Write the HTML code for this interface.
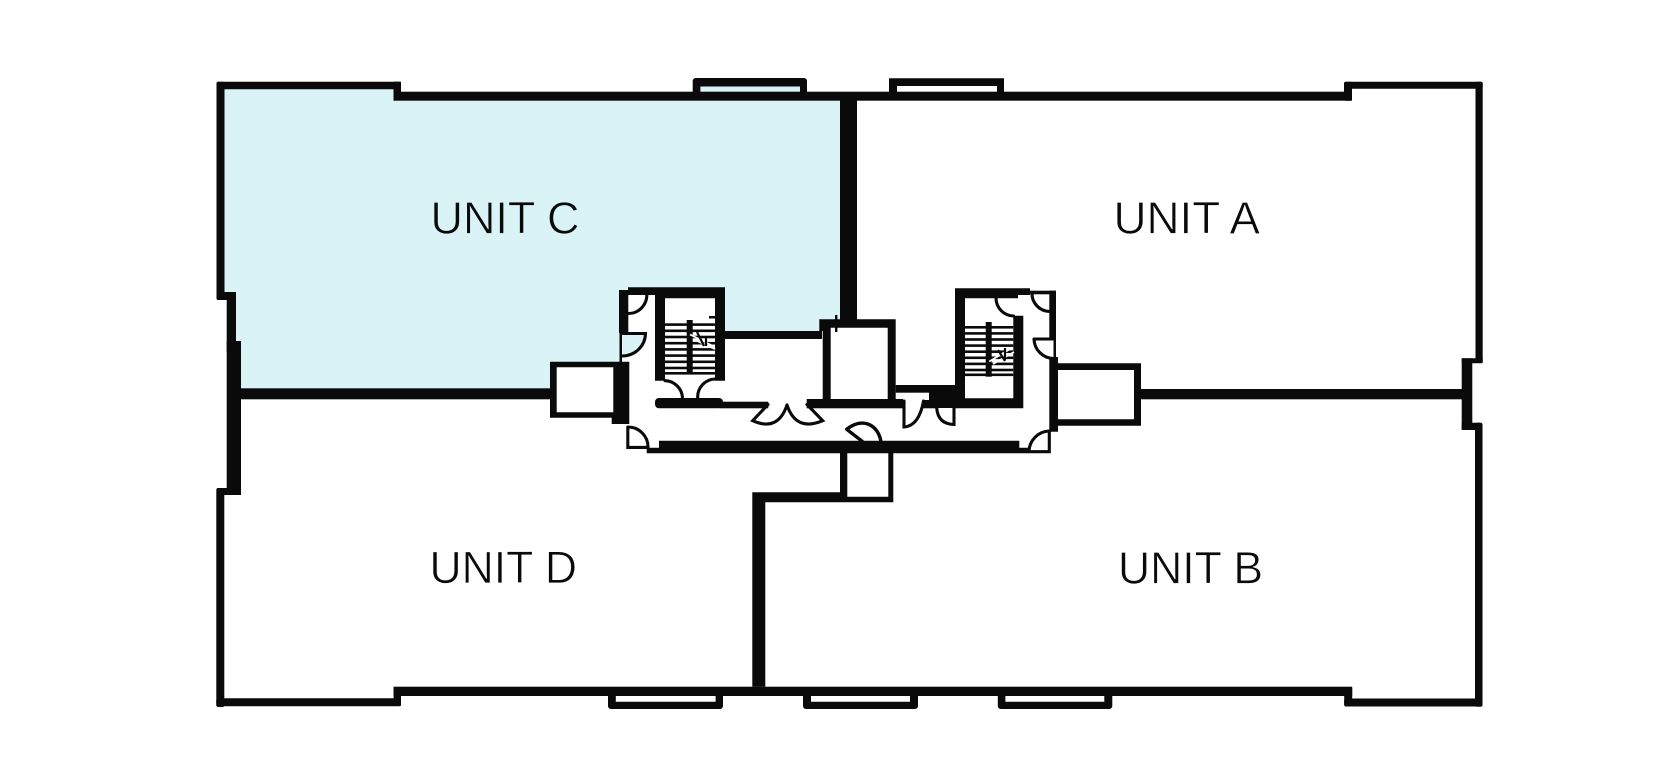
<!DOCTYPE html>
<html>
<head>
<meta charset="utf-8">
<style>
html,body{margin:0;padding:0;background:#fff;width:1664px;height:768px;overflow:hidden}
svg{display:block}
text{font-family:"Liberation Sans",sans-serif;font-size:45.5px;fill:#0a0a0a}
</style>
</head>
<body>
<svg width="1664" height="768" viewBox="0 0 1664 768" xmlns="http://www.w3.org/2000/svg">
<rect width="1664" height="768" fill="#fff"/>
<!-- Unit C fill -->
<path d="M220 85H397V96H696V82H804V96H840V325H820V335H725V290H628V333H622V362H550V392H240V341H232V295H220Z" fill="#d9f3f6"/>
<g fill="#0a0a0a" stroke="none">
<!-- top walls -->
<rect x="393.5" y="91.7" width="958.5" height="9"/>
<rect x="840" y="92" width="17" height="231"/>
<!-- left wall -->
<rect x="216.5" y="81.7" width="184.5" height="7.6" rx="2"/>
<rect x="393.5" y="81.7" width="7.5" height="18"/>
<rect x="216.5" y="81.7" width="8" height="218.3" rx="2"/>
<rect x="216.5" y="292" width="19.5" height="8" rx="2"/>
<rect x="226.7" y="292" width="9.3" height="60"/>
<rect x="226.7" y="341" width="14.3" height="154"/>
<rect x="216.5" y="488" width="24.5" height="7" rx="2"/>
<rect x="216.3" y="488" width="8" height="219" rx="2"/>
<rect x="216.3" y="698.3" width="184.7" height="7.9" rx="2"/>
<rect x="393.6" y="687" width="7.4" height="19" rx="1"/>
<!-- bottom wall -->
<rect x="393.6" y="686.7" width="958.6" height="9.3"/>
<!-- right wall -->
<rect x="1344" y="81.7" width="138.7" height="7" rx="2"/>
<rect x="1344" y="81.7" width="8" height="19" rx="2"/>
<rect x="1475.5" y="81.7" width="7.2" height="281.3" rx="2"/>
<rect x="1461.7" y="358.3" width="21" height="5" rx="1"/>
<rect x="1461.7" y="358.3" width="10.6" height="71.7"/>
<rect x="1461.7" y="422.7" width="20" height="7.3" rx="1"/>
<rect x="1475" y="422.7" width="7.5" height="284" rx="2"/>
<rect x="1344.2" y="698.5" width="138.3" height="8" rx="2"/>
<rect x="1344.2" y="687" width="8" height="19.5" rx="2"/>
<!-- windows -->
<path d="M692.7 92V81a3 3 0 0 1 3-3H804a3 3 0 0 1 3 3V92H800V86.5H700.4V92Z"/>
<path d="M889 92V78.3H1004V92H997V86H897V92Z"/>
<path d="M608 696H615.8V701.7H715.6V696H723V706a3 3 0 0 1-3 3H611a3 3 0 0 1-3-3Z"/>
<path d="M803 696H811V701.7H910V696H918V706a3 3 0 0 1-3 3H806a3 3 0 0 1-3-3Z"/>
<path d="M997.8 696H1005.4V701.7H1104.3V696H1112.3V706a3 3 0 0 1-3 3H1000.8a3 3 0 0 1-3-3Z"/>
<!-- horizontal demising -->
<rect x="236" y="388.3" width="316" height="11"/>
<rect x="1138" y="389" width="326" height="10.3"/>
<!-- left box -->
<path fill-rule="evenodd" d="M550 361.7H629.3V424H611.7V417.7H550ZM556.7 367.3V412.3H613.3V367.3Z"/>
<!-- right box -->
<path fill-rule="evenodd" d="M1049.3 357H1058V363.3H1141V425.7H1058V431.7H1049.3ZM1058 370V419.3H1134V370Z"/>
<!-- left corridor wall / stair column -->
<rect x="619" y="290" width="9.3" height="43"/>
<rect x="619.5" y="333" width="2.5" height="30"/>
<!-- left stair -->
<path fill-rule="evenodd" d="M628 287.3H725V380.7H715V298.3H665V380.7H655V295H628Z"/>
<rect x="725" y="331" width="97" height="8"/>
<rect x="686.7" y="320" width="6" height="54.3"/>
<g>
<rect x="665" y="323.3" width="50" height="2.6"/><rect x="665" y="329.5" width="50" height="2.6"/><rect x="665" y="335.7" width="50" height="2.6"/><rect x="665" y="341.9" width="50" height="2.6"/><rect x="665" y="348.1" width="50" height="2.6"/><rect x="665" y="354.3" width="50" height="2.6"/><rect x="665" y="360.5" width="50" height="2.6"/><rect x="665" y="366.7" width="50" height="2.6"/><rect x="665" y="372" width="50" height="2.6"/>
</g>
<rect x="709" y="316" width="6" height="2.5"/>
<!-- corridor horizontal wall -->
<rect x="655" y="398" width="68" height="10.3" rx="4"/>
<rect x="720" y="401.7" width="48.3" height="6.6"/>
<rect x="806.7" y="399" width="96.3" height="9.3"/>
<!-- core -->
<path fill-rule="evenodd" d="M819.3 319.3H895.7V408H822.7V331H819.3ZM830.7 327.7V399H887.7V327.7Z"/>
<rect x="835" y="315" width="2.4" height="17"/>
<!-- bottom corridor wall -->
<path d="M659 440.7H1019.3V447.7H1029V453.3H646.7V447.7H659Z"/>
<!-- lower box -->
<path fill-rule="evenodd" d="M840 453H847.3V496.7H888.3V453H893.3V502.3H765.3V686.7H752.3V492.3H840Z"/>
<!-- small rooms right of core -->
<rect x="895.7" y="385" width="60" height="7.7"/>
<rect x="929" y="385" width="35" height="23"/>
<rect x="922.7" y="400" width="14" height="8.3"/>
<!-- right stair -->
<path fill-rule="evenodd" d="M955 288.3H1030V295H1018V298.3H965V398.3H1013.3V315.7H1023.3V408.3H955Z"/>
<rect x="985.7" y="322" width="6" height="54.7"/>
<g>
<rect x="965" y="326" width="48.3" height="2.6"/><rect x="965" y="332.1" width="48.3" height="2.6"/><rect x="965" y="338.2" width="48.3" height="2.6"/><rect x="965" y="344.3" width="48.3" height="2.6"/><rect x="965" y="350.4" width="48.3" height="2.6"/><rect x="965" y="356.5" width="48.3" height="2.6"/><rect x="965" y="362.6" width="48.3" height="2.6"/><rect x="965" y="368.7" width="48.3" height="2.6"/><rect x="965" y="373.5" width="48.3" height="2.6"/>
</g>
<!-- right corridor column -->
<rect x="1030" y="290.7" width="26" height="3.6"/>
<rect x="1049.3" y="290.7" width="6.7" height="48.3"/>
<rect x="1053.5" y="339" width="2.5" height="20"/>
</g>
<!-- stair break lines -->
<g stroke="#fff" stroke-width="1.8" fill="none">
<path d="M690 334.5L713 346"/><path d="M693 339L715 349"/>
<path d="M989.3 361.5L1012.5 347.5"/><path d="M993 364L1014 352"/>
</g>
<g stroke="#0a0a0a" stroke-width="2.2" fill="none">
<path d="M697 332L704 346M706 336V346"/><path d="M998 350L1005 361M1005 348V360"/>
</g>
<!-- doors -->
<g stroke="#0a0a0a" stroke-width="3.1" fill="none" stroke-linecap="round">
<path d="M646.5 291.7A18.5 18.5 0 0 1 628.3 313.5"/>
<path d="M622 333.5H645.5A23 23 0 0 1 622.5 356" fill="#d9f3f6"/>
<path d="M665 380.7A18 18 0 0 1 682.5 398"/>
<path d="M715 379A18 18 0 0 0 697.7 398"/>
<path d="M627.8 427V447.4H647.5M627.8 427A20 20 0 0 1 648 447.4"/>
<path d="M768 404.5L752.7 420.7Q778 432 787 405"/>
<path d="M807 404.5L822.7 420.7Q796 432 787 405"/>
<path d="M846.7 429.3L862.7 441.7M846.7 429.3C862 417 878 424 881 441.7" stroke-width="3.4"/>
<path d="M904 401V427Q919 426 923.5 401"/>
<path d="M954 400V424.5Q938 424 936.7 408"/>
<path d="M996 298.3A18 18 0 0 0 1013.5 316"/>
<path d="M1032 293A18 18 0 0 0 1049.5 311.5"/>
<path d="M1034 339H1053.5M1034 339A20 20 0 0 0 1053.5 358.5"/>
<path d="M1029 451.7H1049.3V431.7M1029 451.7A21 21 0 0 1 1049.3 431"/>
</g>
<!-- labels -->
<text x="430.5" y="233.3" textLength="149" lengthAdjust="spacingAndGlyphs" stroke="#d9f3f6" stroke-width="0.7">UNIT C</text>
<text x="1113.5" y="233.3" textLength="146.5" lengthAdjust="spacingAndGlyphs" stroke="#fff" stroke-width="0.7">UNIT A</text>
<text x="429.5" y="583" textLength="147.5" lengthAdjust="spacingAndGlyphs" stroke="#fff" stroke-width="0.7">UNIT D</text>
<text x="1118" y="583.3" textLength="145" lengthAdjust="spacingAndGlyphs" stroke="#fff" stroke-width="0.7">UNIT B</text>
</svg>
</body>
</html>
